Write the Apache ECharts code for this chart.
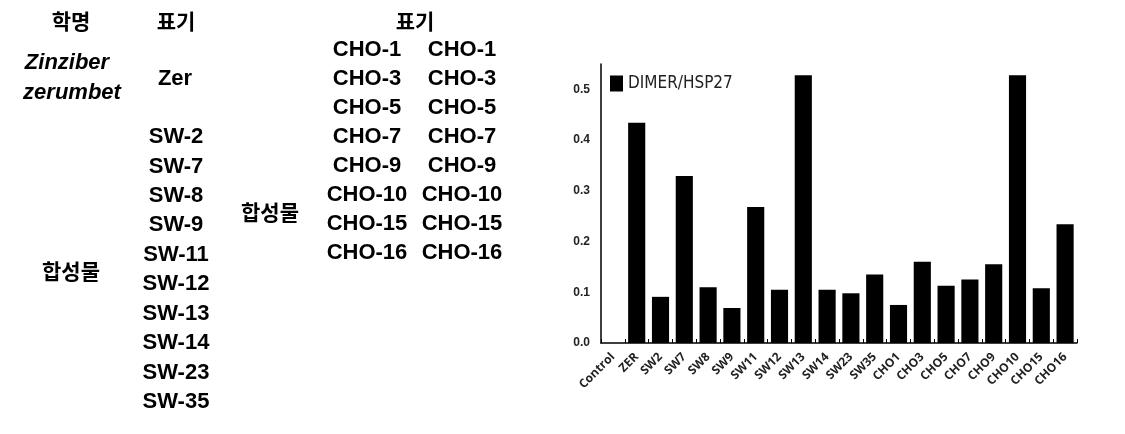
<!DOCTYPE html>
<html>
<head>
<meta charset="utf-8">
<script src="https://cdn.jsdelivr.net/npm/echarts@6/dist/echarts.min.js"></script>
<style>html,body{margin:0;padding:0;background:#fff}#c{width:1125px;height:434px}</style>
</head>
<body>
<div id="c"></div>
<script>
// ---- chart data ----
const categories = ['Control','ZER','SW2','SW7','SW8','SW9','SW11','SW12','SW13','SW14','SW23','SW35','CHO1','CHO3','CHO5','CHO7','CHO9','CHO10','CHO15','CHO16'];
const values = [0, 0.434, 0.091, 0.329, 0.110, 0.069, 0.268, 0.105, 0.528, 0.105, 0.098, 0.135, 0.075, 0.160, 0.113, 0.125, 0.155, 0.528, 0.108, 0.234];
const seriesName = 'DIMER/HSP27';

// ---- table text ----
const headers = ['학명', '표기', '표기'];
const speciesName = ['Zinziber', 'zerumbet'];
const zerCode = 'Zer';
const groupLabel = '합성물';
const swCodes = ['SW-2','SW-7','SW-8','SW-9','SW-11','SW-12','SW-13','SW-14','SW-23','SW-35'];
const choCodes = ['CHO-1','CHO-3','CHO-5','CHO-7','CHO-9','CHO-10','CHO-15','CHO-16'];
const choCodes2 = ['CHO-1','CHO-3','CHO-5','CHO-7','CHO-9','CHO-10','CHO-15','CHO-16'];

const KR = 'bold 21px "Noto Sans CJK KR", sans-serif';
const LAT = 'bold 22px "Liberation Sans", Arial, sans-serif';
const LATI = 'italic bold 22px "Liberation Sans", Arial, sans-serif';

function txt(text, x, y, font) {
  return { type: 'text', x: x, y: y, silent: true,
    style: { text: text, font: font, fill: '#000', align: 'center', verticalAlign: 'middle' } };
}
const g = [];
g.push(txt(headers[0], 71, 21, KR));
g.push(txt(headers[1], 176, 21, KR));
g.push(txt(headers[2], 415, 21, KR));
g.push(txt(speciesName[0], 67, 63, LATI));
g.push(txt(speciesName[1], 72, 93, LATI));
g.push(txt(zerCode, 175, 79, LAT));
swCodes.forEach((s, i) => g.push(txt(s, 176, 137 + i * 29.44, LAT)));
g.push(txt(groupLabel, 71, 271, KR));
g.push(txt(groupLabel, 270, 212, KR));
choCodes.forEach((s, i) => g.push(txt(s, 367, 50 + i * 29, LAT)));
choCodes2.forEach((s, i) => g.push(txt(s, 462, 50 + i * 29, LAT)));

const chart = echarts.init(document.getElementById('c'));
chart.setOption({
  animation: false,
  backgroundColor: '#fff',
  graphic: g,
  legend: {
    data: [seriesName], left: 610, top: 75, padding: 0,
    icon: 'rect', itemWidth: 13, itemHeight: 16, itemGap: 4,
    textStyle: { fontSize: 17, fontFamily: '"Liberation Sans Narrow", "DejaVu Sans Condensed", "Liberation Sans"', color: '#222' }
  },
  grid: { left: 601, right: 48, top: 64, bottom: 91, containLabel: false },
  xAxis: {
    type: 'category', data: categories,
    axisLine: { lineStyle: { color: '#000', width: 1.5 } },
    axisTick: { show: true, inside: true, length: 4, lineStyle: { color: '#000' } },
    axisLabel: { rotate: 45, interval: 0, fontSize: 12, fontWeight: 'bold', color: '#222', margin: 12, fontFamily: '"Open Sans", sans-serif' }
  },
  yAxis: {
    type: 'value', min: 0, max: 0.55, interval: 0.1,
    axisLine: { show: true, lineStyle: { color: '#000', width: 1.5 } },
    axisTick: { show: false },
    splitLine: { show: false },
    axisLabel: { showMaxLabel: false, fontSize: 12, fontWeight: 'bold', color: '#222', margin: 11,
      fontFamily: '"Liberation Sans", Arial', formatter: v => v.toFixed(1) }
  },
  series: [{
    name: seriesName, type: 'bar', data: values, barCategoryGap: '28%',
    itemStyle: { color: '#000' }
  }]
});
</script>
</body>
</html>
